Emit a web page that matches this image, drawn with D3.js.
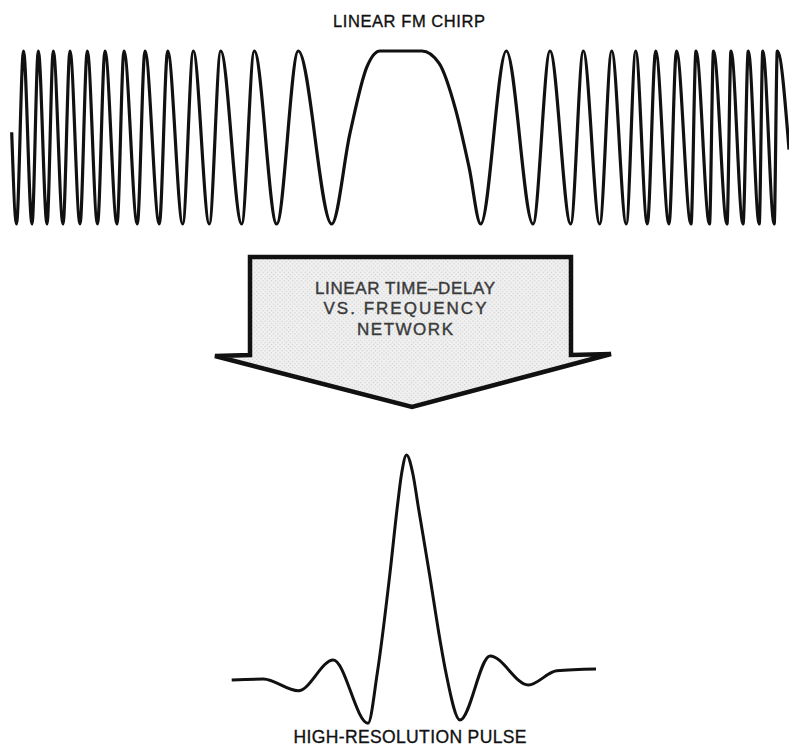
<!DOCTYPE html>
<html>
<head>
<meta charset="utf-8">
<script src="https://cdn.jsdelivr.net/npm/d3@7/dist/d3.min.js"></script>
<style>
  body { margin: 0; background: #fff; }
  text { font-family: "Liberation Sans", Arial, Helvetica, sans-serif; }
</style>
</head>
<body>
<script>
var width = 789
var height = 747

// chirp: sample position of each extremum (and shoulder) and its normalized amplitude
var chirpT = [11.7, 16.5, 23.5, 32, 38.3, 47, 53.3, 63, 70, 80, 87.3, 97.5, 105, 117, 124, 137.3, 145, 159.3,
  167.7, 182.7, 193.3, 209.3, 220.7, 241.7, 254.3, 276.7, 298.3, 331.7, 350, 366.7, 380, 422, 439, 455.7, 469,
  480.7, 506.3, 533, 550, 570.7, 583.3, 599.7, 611.7, 626.3, 635.7, 647.3, 655.7, 669, 676.5, 691, 696,
  709.5, 713.5, 727, 731, 743, 748.3, 759.2, 762.8, 774.2, 777.3, 789]
var chirpA = [0.06, -1, 1, -1, 1, -1, 1, -1, 1, -1, 1, -1, 1, -1, 1, -1, 1, -1,
  1, -1, 1, -1, 1, -1, 1, -1, 1, -1, 0.05, 0.81, 1, 1, 0.86, 0.32, -0.34,
  -1, 1, -1, 1, -1, 1, -1, 1, -1, 1, -1, 1, -1, 1, -1, 1,
  -1, 1, -1, 1, -1, 1, -1, 1, -1, 1, -0.14]

// compressed pulse after the dispersive network
var pulseT = [231.7, 263.3, 298.3, 333.3, 368, 377.3, 390, 397.3, 401.7, 406.5, 412.7, 418.3, 429.3,
  440, 446, 460, 490, 528.3, 556.7, 596]
var pulseA = [0, 0.004, -0.048, 0.089, -0.192, 0.031, 0.476, 0.769, 0.92, 1.0, 0.92, 0.769, 0.476,
  0.178, 0.031, -0.178, 0.107, -0.022, 0.041, 0.049]

var arrowLines = ["LINEAR TIME\u2013DELAY", "VS. FREQUENCY", "NETWORK"]
var arrowWidths = [180, 163, 96]

var svg = d3.select("body").append("svg")
    .attr("width", width)
    .attr("height", height);

var x = d3.scaleLinear().domain([0, 789]).range([0, 789]);
var yChirp = d3.scaleLinear().domain([-1, 1]).range([224, 51]);
var yPulse = d3.scaleLinear().domain([-0.2, 1]).range([725, 455]);

// halftone fill for the arrow
var defs = svg.append("defs");
var pat = defs.append("pattern")
    .attr("id", "dots")
    .attr("width", 3).attr("height", 3)
    .attr("patternUnits", "userSpaceOnUse")
    .attr("patternTransform", "rotate(45)");
pat.append("rect").attr("width", 3).attr("height", 3).attr("fill", "#f1f1f1");
pat.append("rect").attr("width", 1.2).attr("height", 1.2).attr("fill", "#cdcdcd");

svg.append("text")
    .attr("x", 409).attr("y", 27)
    .attr("text-anchor", "middle")
    .attr("font-size", 16.5)
    .attr("textLength", 152)
    .attr("fill", "#111")
    .attr("stroke", "#111")
    .attr("stroke-width", 0.35)
    .text("LINEAR FM CHIRP");

var chirpLine = d3.line()
    .x(function(d) { return x(d[0]); })
    .y(function(d) { return yChirp(d[1]); })
    .curve(d3.curveMonotoneX);

svg.append("path")
    .datum(d3.zip(chirpT, chirpA))
    .attr("d", chirpLine)
    .attr("fill", "none")
    .attr("stroke", "#111")
    .attr("stroke-width", 3.2)
    .attr("stroke-linejoin", "round");

// the arrow (network block)
var ax0 = 250, ax1 = 571, atop = 257, ashoulder = 355, awl = 215, awr = 611, tipX = 412, tipY = 407;
var arrowPts = [[ax0, atop], [ax1, atop], [ax1, ashoulder], [awr, ashoulder - 1], [tipX, tipY],
  [awl, ashoulder + 1], [ax0, ashoulder]];

svg.append("path")
    .attr("d", "M" + arrowPts.join("L") + "Z")
    .attr("fill", "url(#dots)")
    .attr("stroke", "#111")
    .attr("stroke-width", 4.5)
    .attr("stroke-linejoin", "miter");

var baselines = [293.5, 314, 334.5];
svg.append("g").selectAll("text")
    .data(arrowLines)
    .enter().append("text")
    .attr("x", 405)
    .attr("y", function(d, i) { return baselines[i]; })
    .attr("text-anchor", "middle")
    .attr("font-size", 17)
    .attr("textLength", function(d, i) { return arrowWidths[i]; })
    .attr("fill", "#3a3a3a")
    .attr("stroke", "#3a3a3a")
    .attr("stroke-width", 0.4)
    .text(function(d) { return d; });

var pulseLine = d3.line()
    .x(function(d) { return x(d[0]); })
    .y(function(d) { return yPulse(d[1]); })
    .curve(d3.curveMonotoneX);

svg.append("path")
    .datum(d3.zip(pulseT, pulseA))
    .attr("d", pulseLine)
    .attr("fill", "none")
    .attr("stroke", "#111")
    .attr("stroke-width", 3)
    .attr("stroke-linejoin", "round");

svg.append("text")
    .attr("x", 410).attr("y", 743)
    .attr("text-anchor", "middle")
    .attr("font-size", 17.5)
    .attr("textLength", 233)
    .attr("fill", "#111")
    .attr("stroke", "#111")
    .attr("stroke-width", 0.35)
    .text("HIGH-RESOLUTION PULSE");
</script>
</body>
</html>
